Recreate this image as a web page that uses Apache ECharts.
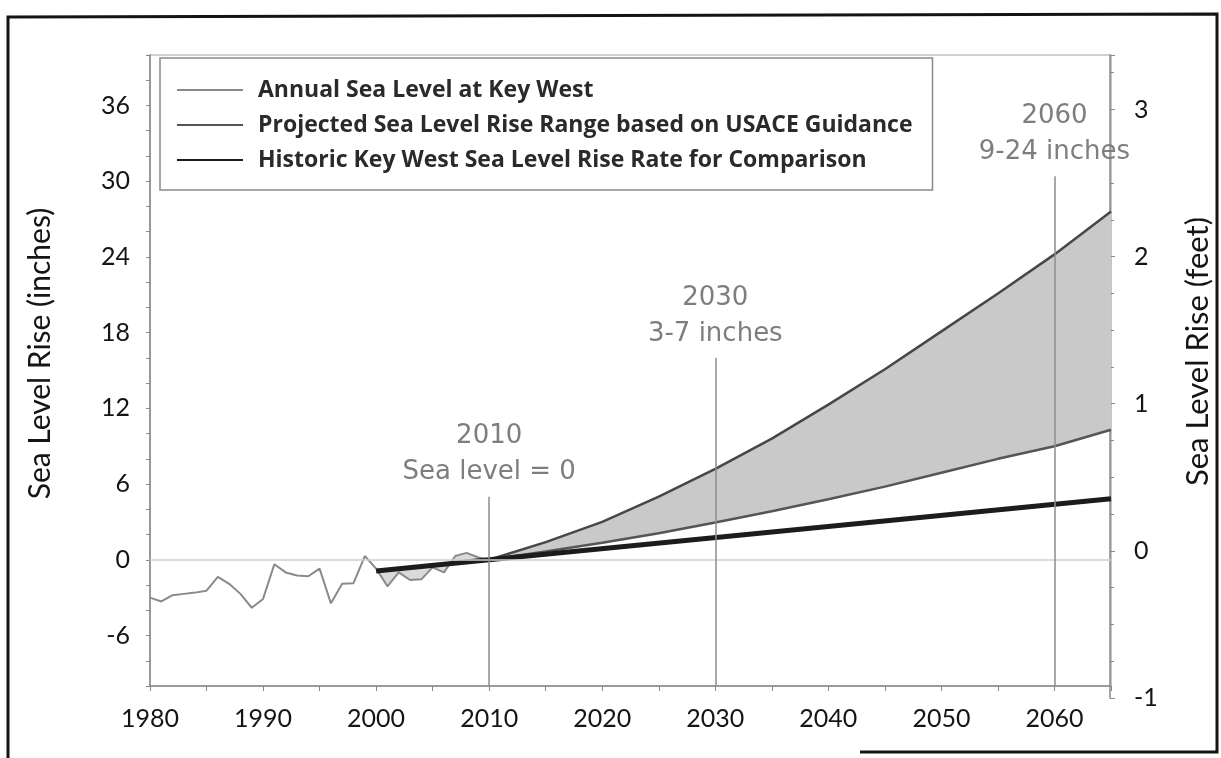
<!DOCTYPE html>
<html><head><meta charset="utf-8">
<script src="https://cdn.jsdelivr.net/npm/echarts@6/dist/echarts.min.js"></script>
<style>html,body{margin:0;padding:0;background:#fff}#c{width:1221px;height:758px}</style>
</head><body><div id="c"></div>
<script>
// ---- data (inches, relative to 2010 sea level) ----
const annualYears  = [1980,1981,1982,1983,1984,1985,1986,1987,1988,1989,1990,1991,1992,1993,1994,1995,1996,1997,1998,1999,2000,2001,2002,2003,2004,2005,2006,2007,2008,2009,2010];
const annualValues = [-3.0,-3.3,-2.8,-2.7,-2.6,-2.45,-1.35,-1.9,-2.7,-3.8,-3.1,-0.35,-1.0,-1.25,-1.3,-0.7,-3.45,-1.9,-1.85,0.3,-0.7,-2.1,-1.0,-1.6,-1.55,-0.6,-1.0,0.3,0.55,0.2,0.0];
const projYears = [2010,2015,2020,2025,2030,2035,2040,2045,2050,2055,2060,2065];
const projLow   = [0,0.65,1.35,2.1,2.95,3.85,4.8,5.8,6.9,8.0,9.0,10.3];
const projHigh  = [0,1.4,3.0,5.0,7.2,9.6,12.3,15.1,18.1,21.1,24.2,27.6];
const histYears  = [2000,2010,2065];
const histValues = [-0.88,0,4.84];
const xTickLabels = [1980,1990,2000,2010,2020,2030,2040,2050,2060];
const leftTickLabels = [-6,0,6,12,18,24,30,36];
const rightTickLabels = [-1,0,1,2,3];
const markerYears = [2010,2030,2060];
const markerTops  = [5.0,16.0,30.4];
const markerTexts = [['2010','Sea level = 0'],['2030','3-7 inches'],['2060','9-24 inches']];

const NAME_A = 'Annual Sea Level at Key West';
const NAME_P = 'Projected Sea Level Rise Range based on USACE Guidance';
const NAME_H = 'Historic Key West Sea Level Rise Rate for Comparison';

const pairs = (xs, ys) => xs.map((x, i) => [x, ys[i]]);

const AXIS_FONT = 'Lato';
const chart = echarts.init(document.getElementById('c'), null, {renderer: 'canvas'});

const markLineData = [
  { yAxis: 0, lineStyle: { color: '#cfcfcf', width: 1.5, type: 'solid' }, label: { show: false } }
];
markerYears.forEach((yr, i) => {
  markLineData.push([
    { coord: [yr, -10], lineStyle: { color: '#8c8c8c', width: 1.5, type: 'solid' } },
    { coord: [yr, markerTops[i]], label: { show: true, position: 'end', formatter: markerTexts[i].join('\n') } }
  ]);
});

// polygon between the two projection curves
function bandRender(params, api) {
  const pts = [];
  for (let i = 0; i < projYears.length; i++) pts.push(api.coord([projYears[i], projHigh[i]]));
  for (let i = projYears.length - 1; i >= 0; i--) pts.push(api.coord([projYears[i], projLow[i]]));
  return { type: 'polygon', shape: { points: pts }, style: { fill: '#c9c9c9' } };
}
// light shading between recent annual values and the historic trend
function recentRender(params, api) {
  const pts = [api.coord([histYears[0], histValues[0]]), api.coord([histYears[1], histValues[1]])];
  for (let i = annualYears.length - 1; i >= 0; i--) {
    if (annualYears[i] >= histYears[0]) pts.push(api.coord([annualYears[i], annualValues[i]]));
  }
  return { type: 'polygon', shape: { points: pts }, style: { fill: '#dadada' } };
}

chart.setOption({
  animation: false,
  backgroundColor: '#ffffff',
  grid: [
    { left: 150, right: 110, top: 55, bottom: 72, show: true, borderColor: '#a0a0a0', borderWidth: 1.2, backgroundColor: 'transparent' },
    { left: 150, right: 110, top: 55, bottom: 60 }
  ],
  legend: {
    data: [NAME_A, NAME_P, NAME_H],
    orient: 'vertical',
    left: 160, top: 58,
    selectedMode: false,
    backgroundColor: '#fff',
    borderColor: '#8a8a8a', borderWidth: 1.5,
    padding: [18, 20, 16, 16],
    itemGap: 7,
    itemWidth: 66, itemHeight: 10,
    itemStyle: { opacity: 0 },
    textStyle: { fontFamily: 'Open Sans', fontWeight: 'bold', fontSize: 23, lineHeight: 28, color: '#2a2a2a', padding: [0, 0, 0, 10] }
  },
  xAxis: [
    {
      type: 'value', gridIndex: 0, min: 1980, max: 2065, interval: 10,
      axisLine: { show: true, onZero: false, lineStyle: { color: '#8a8a8a', width: 1.5 } },
      axisTick: { show: true, inside: false, length: 5, lineStyle: { color: '#8a8a8a' } },
      minorTick: { show: true, splitNumber: 2, length: 5, lineStyle: { color: '#8a8a8a' } },
      splitLine: { show: false },
      axisLabel: {
        margin: 20, color: '#151515', fontFamily: AXIS_FONT, fontSize: 25,
        showMaxLabel: false,
        formatter: v => xTickLabels.indexOf(v) >= 0 ? String(v) : ''
      }
    },
    { type: 'value', gridIndex: 1, min: 0, max: 1, show: false }
  ],
  yAxis: [
    {
      type: 'value', gridIndex: 0, min: -10, max: 40, interval: 2,
      name: 'Sea Level Rise (inches)', nameLocation: 'middle', nameGap: 95, nameRotate: 90,
      nameTextStyle: { fontFamily: AXIS_FONT, fontSize: 30, color: '#151515', padding: [0, 0, 0, 34] },
      axisLine: { show: true, onZero: false, lineStyle: { color: '#8a8a8a', width: 1.5 } },
      axisTick: { show: true, length: 4, lineStyle: { color: '#8a8a8a' } },
      splitLine: { show: false },
      axisLabel: {
        margin: 20, color: '#151515', fontFamily: AXIS_FONT, fontSize: 25,
        formatter: v => leftTickLabels.indexOf(v) >= 0 ? String(v) : ''
      }
    },
    {
      type: 'value', gridIndex: 1, position: 'right', min: -1, max: 3.37, interval: 1,
      name: 'Sea Level Rise (feet)', nameLocation: 'middle', nameGap: 72, nameRotate: 90,
      nameTextStyle: { fontFamily: AXIS_FONT, fontSize: 31, color: '#151515', padding: [0, 0, 0, 50] },
      axisLine: { show: true, onZero: false, lineStyle: { color: '#8a8a8a', width: 1.5 } },
      axisTick: { show: true, length: 5, lineStyle: { color: '#8a8a8a' } },
      minorTick: { show: true, splitNumber: 4, length: 4, lineStyle: { color: '#8a8a8a' } },
      splitLine: { show: false },
      axisLabel: {
        margin: 24, color: '#151515', fontFamily: AXIS_FONT, fontSize: 25,
        showMaxLabel: false,
        formatter: v => rightTickLabels.indexOf(v) >= 0 ? String(v) : ''
      }
    }
  ],
  series: [
    {
      type: 'custom', xAxisIndex: 0, yAxisIndex: 0, silent: true, z: 1,
      data: [[projYears[0], projLow[0]]], renderItem: bandRender
    },
    {
      type: 'custom', xAxisIndex: 0, yAxisIndex: 0, silent: true, z: 1,
      data: [[histYears[0], histValues[0]]], renderItem: recentRender
    },
    {
      name: NAME_A, type: 'line', xAxisIndex: 0, yAxisIndex: 0,
      data: pairs(annualYears, annualValues),
      symbol: 'none', z: 3,
      lineStyle: { color: '#8a8a8a', width: 2 }, itemStyle: { color: '#8a8a8a' },
      markLine: {
        silent: true, symbol: ['none', 'none'], z: 6,
        label: {
          color: '#7e7e7e', fontFamily: 'DejaVu Sans', fontSize: 26, lineHeight: 36, distance: 6
        },
        data: markLineData
      }
    },
    {
      name: NAME_P, type: 'line', xAxisIndex: 0, yAxisIndex: 0,
      data: pairs(projYears, projLow),
      symbol: 'none', z: 4,
      lineStyle: { color: '#555555', width: 2.5 }, itemStyle: { color: '#6a6a6a' }
    },
    {
      name: NAME_P, type: 'line', xAxisIndex: 0, yAxisIndex: 0,
      data: pairs(projYears, projHigh),
      symbol: 'none', z: 4,
      lineStyle: { color: '#474747', width: 2.5 }, itemStyle: { color: '#6a6a6a' }
    },
    {
      name: NAME_H, type: 'line', xAxisIndex: 0, yAxisIndex: 0,
      data: pairs(histYears, histValues),
      symbol: 'none', z: 5,
      lineStyle: { color: '#1c1c1c', width: 5 }, itemStyle: { color: '#1c1c1c' }
    }
  ],
  graphic: [
    { type: 'polyline', silent: true, shape: { points: [[8, 758], [8, 17], [1217, 14], [1217, 752], [860, 752]] },
      style: { stroke: '#141414', lineWidth: 3, fill: null } }
  ]
});
</script></body></html>
